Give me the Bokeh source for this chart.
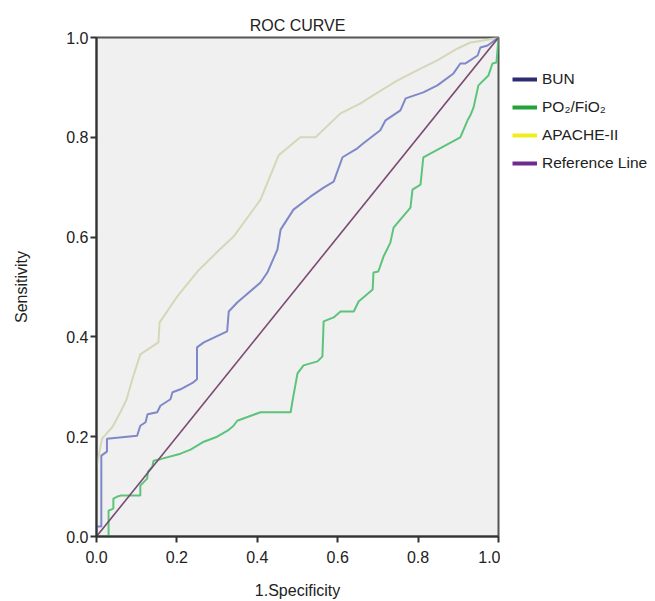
from bokeh.plotting import figure
from bokeh.layouts import row
from bokeh.models import Range1d, FixedTicker, PrintfTickFormatter, Legend, LegendItem
from bokeh.embed import file_html
from bokeh.resources import INLINE

# ---------------- data ----------------
apache_x = [0, 0, 0.005, 0.014, 0.04, 0.06, 0.075, 0.089, 0.109, 0.154, 0.157, 0.20, 0.251, 0.30,
            0.341, 0.408, 0.453, 0.507, 0.545, 0.607, 0.657, 0.70, 0.749, 0.80, 0.85, 0.898, 0.93,
            0.97, 1.0]
apache_y = [0, 0.14, 0.16, 0.196, 0.22, 0.25, 0.275, 0.315, 0.365, 0.389, 0.429, 0.48, 0.531, 0.57,
            0.601, 0.675, 0.764, 0.800, 0.800, 0.848, 0.868, 0.89, 0.914, 0.935, 0.955, 0.978, 0.99,
            0.995, 1.0]

bun_x = [0, 0, 0.012, 0.012, 0.026, 0.026, 0.101, 0.109, 0.122, 0.127, 0.151, 0.159, 0.184, 0.189,
         0.209, 0.241, 0.25, 0.25, 0.267, 0.325, 0.329, 0.35, 0.408, 0.425, 0.45, 0.458, 0.49, 0.532,
         0.565, 0.59, 0.612, 0.649, 0.664, 0.706, 0.719, 0.756, 0.769, 0.813, 0.848, 0.888, 0.905,
         0.918, 0.948, 0.955, 0.973, 1.0]
bun_y = [0, 0.02, 0.02, 0.162, 0.17, 0.196, 0.202, 0.222, 0.229, 0.245, 0.249, 0.262, 0.275, 0.289,
         0.295, 0.309, 0.315, 0.379, 0.389, 0.411, 0.451, 0.469, 0.509, 0.529, 0.575, 0.615, 0.655,
         0.681, 0.699, 0.711, 0.76, 0.778, 0.788, 0.814, 0.834, 0.854, 0.878, 0.89, 0.904, 0.928,
         0.948, 0.948, 0.964, 0.98, 0.984, 1.0]

po2_x = [0, 0.03, 0.03, 0.042, 0.042, 0.052, 0.06, 0.109, 0.109, 0.126, 0.128, 0.139, 0.142, 0.159,
         0.209, 0.234, 0.267, 0.30, 0.326, 0.341, 0.35, 0.408, 0.483, 0.487, 0.50, 0.515, 0.55, 0.562,
         0.565, 0.59, 0.607, 0.64, 0.652, 0.687, 0.689, 0.701, 0.714, 0.731, 0.739, 0.781, 0.786,
         0.806, 0.813, 0.905, 0.923, 0.93, 0.938, 0.95, 0.975, 0.985, 0.995, 1.0]
po2_y = [0, 0.0, 0.052, 0.056, 0.076, 0.08, 0.082, 0.082, 0.102, 0.116, 0.13, 0.14, 0.152, 0.155,
         0.166, 0.174, 0.19, 0.2, 0.212, 0.222, 0.232, 0.249, 0.249, 0.269, 0.327, 0.343, 0.351, 0.361,
         0.431, 0.439, 0.451, 0.451, 0.471, 0.495, 0.529, 0.531, 0.561, 0.589, 0.619, 0.659, 0.695,
         0.705, 0.76, 0.80, 0.834, 0.844, 0.86, 0.904, 0.924, 0.948, 0.95, 1.0]

ref_x = [0, 1]
ref_y = [0, 1]

series_labels = ["BUN", "PO\u2082/FiO\u2082", "APACHE-II", "Reference Line"]
tick_values = [0.0, 0.2, 0.4, 0.6, 0.8, 1.0]

FONT = "Liberation Sans"
TXT = "#222222"

p = figure(width=500, height=601, output_backend="svg", toolbar_location=None,
           x_range=Range1d(0, 1), y_range=Range1d(0, 1), title="ROC CURVE",
           min_border_left=96, min_border_right=2, min_border_top=37, min_border_bottom=63)

p.title.align = "center"
p.title.text_font = FONT
p.title.text_font_size = "16px"
p.title.text_font_style = "normal"
p.title.text_color = TXT
p.title.standoff = 8

p.background_fill_color = "#f0f0f0"
p.border_fill_color = "white"
p.grid.visible = False
p.outline_line_color = "#555555"
p.outline_line_width = 2

for ax in (p.xaxis[0], p.yaxis[0]):
    ax.ticker = FixedTicker(ticks=tick_values)
    ax.formatter = PrintfTickFormatter(format="%.1f")
    ax.minor_tick_line_color = None
    ax.major_tick_in = 0
    ax.major_tick_out = 6
    ax.major_tick_line_width = 2
    ax.major_tick_line_color = "#333333"
    ax.axis_line_width = 2
    ax.axis_line_color = "#333333"
    ax.major_label_text_font = FONT
    ax.major_label_text_font_size = "16px"
    ax.major_label_text_color = TXT
    ax.axis_label_text_font = FONT
    ax.axis_label_text_font_size = "16px"
    ax.axis_label_text_font_style = "normal"
    ax.axis_label_text_color = TXT

p.xaxis.axis_label = "1.Specificity"
p.yaxis.axis_label = "Sensitivity"
p.xaxis.major_label_standoff = 8
p.xaxis.axis_label_standoff = 16
p.yaxis.major_label_standoff = 2
p.yaxis.axis_label_standoff = 33

# curves
p.line(apache_x, apache_y, line_color="#d6d6b8", line_width=2)
p.line(bun_x, bun_y, line_color="#7f88c8", line_width=2)
p.line(po2_x, po2_y, line_color="#5cc47a", line_width=2)
p.line(ref_x, ref_y, line_color="#7a4a72", line_width=1.6)

# ---------------- legend panel (legend colours differ from the curve colours) ----------------
lg = figure(width=155, height=601, output_backend="svg", toolbar_location=None,
            x_range=Range1d(0, 1), y_range=Range1d(0, 1), title=None, min_border=0)
lg.axis.visible = False
lg.grid.visible = False
lg.outline_line_color = None
lg.background_fill_color = "white"
lg.border_fill_color = "white"

leg_colors = ["#2b2d6e", "#22a33a", "#f2ee1e", "#6b2d8f"]
leg_renderers = [lg.line(ref_x, ref_y, line_color=c, line_width=4, visible=False) for c in leg_colors]

legend = Legend(items=[LegendItem(label=l, renderers=[r]) for l, r in zip(series_labels, leg_renderers)],
                location=(12, 363), glyph_width=25, glyph_height=20, label_height=20, spacing=8,
                padding=0, margin=0, border_line_color=None, background_fill_alpha=0,
                label_standoff=5, label_text_font=FONT, label_text_font_size="15.5px",
                label_text_color=TXT)
lg.add_layout(legend)

layout = row(p, lg, spacing=0)
open("out.html", "w").write(file_html(layout, INLINE))
